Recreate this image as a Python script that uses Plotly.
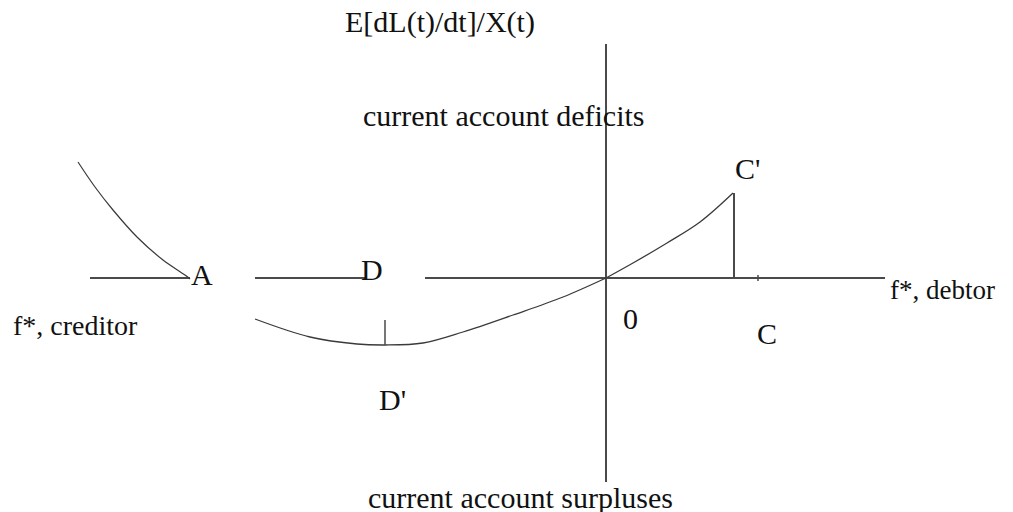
import plotly.graph_objects as go

# Diagram geometry (in picture units)
axis_y = 278
axis_x = 606
h_seg1_x = [90, 190]
h_seg2_x = [255, 365]
h_seg3_x = [425, 885]
v_axis_y = [44, 482]

left_curve_x = [78, 95, 113, 137, 163, 185, 190]
left_curve_y = [162, 187, 210, 237, 260, 275, 279]

lower_curve_x = [255, 310, 357, 385, 423, 463, 513, 563, 606]
lower_curve_y = [319, 337, 344, 345, 343, 332, 315, 297, 278]

right_curve_x = [606, 633, 667, 700, 733]
right_curve_y = [278, 263, 243, 222, 193]

c_line_x = [734, 734]
c_line_y = [193, 278]
c_tick_x = [758, 758]
c_tick_y = [275, 281]
d_tick_x = [385, 385]
d_tick_y = [320, 345]

labels = ["E[dL(t)/dt]/X(t)", "current account deficits", "C'", "A", "D",
          "f*, debtor", "f*, creditor", "0", "C", "D'", "current account surpluses"]
label_x = [440, 504, 747, 202, 372, 889, 12, 630, 767, 392, 520]
label_y = [22, 115, 168, 274, 269, 290, 325, 318, 333, 399, 497]
label_anchor = ["center", "center", "center", "center", "center",
                "left", "left", "center", "center", "center", "center"]
label_size = [30, 30, 30, 30, 30, 27, 28, 30, 30, 30, 30]

AX = "#4a4a4a"
CV = "#3a3a3a"

fig = go.Figure()

def seg(xs, ys, color, width, shape="linear"):
    fig.add_trace(go.Scatter(x=xs, y=ys, mode="lines",
                             line=dict(color=color, width=width, shape=shape),
                             hoverinfo="skip", showlegend=False))

seg(h_seg1_x, [axis_y, axis_y], AX, 2)
seg(h_seg2_x, [axis_y, axis_y], AX, 2)
seg(h_seg3_x, [axis_y, axis_y], AX, 2)
seg([axis_x, axis_x], v_axis_y, AX, 2)
seg(left_curve_x, left_curve_y, CV, 1.2, "spline")
seg(lower_curve_x, lower_curve_y, CV, 1.3, "spline")
seg(right_curve_x, right_curve_y, CV, 1.3, "spline")
seg(c_line_x, c_line_y, AX, 2)
seg(c_tick_x, c_tick_y, AX, 1.5)
seg(d_tick_x, d_tick_y, AX, 1.5)

for t, x, y, a, s in zip(labels, label_x, label_y, label_anchor, label_size):
    fig.add_annotation(x=x, y=y, text=t, showarrow=False,
                       xanchor=a, yanchor="middle", borderpad=0,
                       font=dict(family="Liberation Serif", size=s, color="#111111"))

# The page body adds an 8px offset, so the figure is 8px smaller and its
# ranges start at 8 to keep picture units aligned with the window.
fig.update_layout(
    width=1005, height=504,
    margin=dict(l=0, r=0, t=0, b=0),
    paper_bgcolor="white", plot_bgcolor="white",
    xaxis=dict(range=[8, 1013], visible=False, fixedrange=True),
    yaxis=dict(range=[512, 8], visible=False, fixedrange=True),
)

fig.write_html("out.html")
